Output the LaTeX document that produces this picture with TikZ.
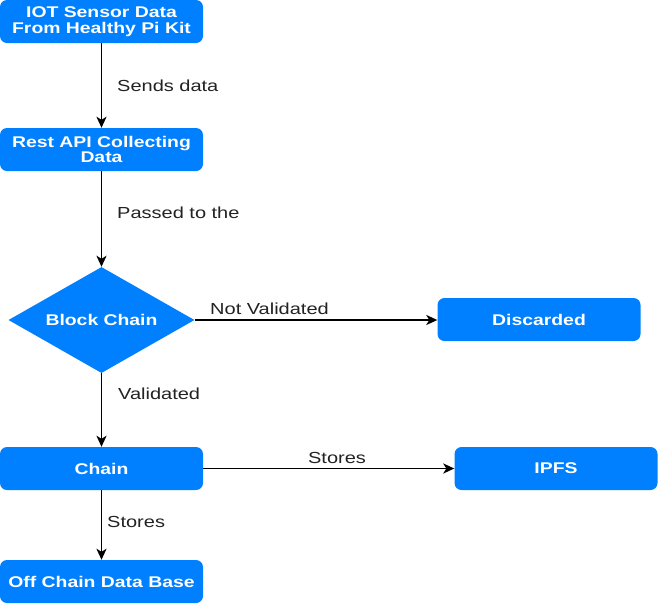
\documentclass[tikz,border=0pt]{standalone}
\usepackage{fontspec}
\setmainfont{Liberation Sans}
\newfontfamily\wide[FakeStretch=1.25]{Liberation Sans}
\usetikzlibrary{shapes.geometric,arrows.meta}
\definecolor{boxblue}{RGB}{0,127,255}
\definecolor{labgray}{RGB}{34,34,34}
\begin{document}
\begin{tikzpicture}[x=1pt,y=-1pt,
  box/.style={draw=none,fill=boxblue,rounded corners=7pt,minimum width=203pt,minimum height=43pt,inner sep=0pt,
    align=center,text=white,font=\wide\bfseries\fontsize{15.5}{15.5}\selectfont},
  dia/.style={diamond,aspect=1.755,draw=none,fill=boxblue,minimum width=186pt,minimum height=106pt,inner sep=0pt,
    text=white,font=\wide\bfseries\fontsize{15.5}{15}\selectfont},
  conn/.style={line width=1.8pt,black,-{Stealth[length=11pt,width=10pt,inset=3pt]}},
  lab/.style={text=labgray,inner sep=0pt,font=\wide\fontsize{16}{18}\selectfont}]
\useasboundingbox (0,0) rectangle (658,603);
\node[box] (iot) at (101.5,21.5) {IOT Sensor Data\\From Healthy Pi Kit};
\node[box] (rest) at (101.5,149.5) {Rest API Collecting\\Data};
\node[dia] (bc) at (101.5,320) {Block Chain};
\node[box] (disc) at (539,319.5) {Discarded};
\node[box] (chain) at (101.5,468.5) {Chain};
\node[box] (ipfs) at (556,468.5) {IPFS};
\node[box] (off) at (101.5,581.5) {Off Chain Data Base};
\draw[conn] (iot) -- (rest);
\draw[conn] (rest) -- (bc);
\draw[conn] (bc.east) -- (disc.west |- bc.east);
\draw[conn] (bc) -- (chain);
\draw[conn] (chain) -- (ipfs);
\draw[conn] (chain) -- (off);
\node[lab,anchor=west] (l1) at (117,86) {Sends data};
\node[lab,anchor=west] (l2) at (117,213) {Passed to the};
\node[lab,anchor=west] (l3) at (210,309) {Not Validated};
\node[lab,anchor=west] (l4) at (118,394) {Validated};
\node[lab] (l5) at (337,458) {Stores};
\node[lab,anchor=west] (l6) at (107,522) {Stores};
\end{tikzpicture}
\end{document}
